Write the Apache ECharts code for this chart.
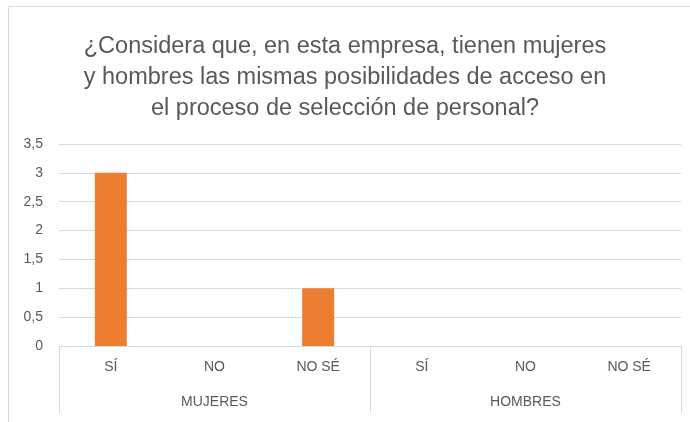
<!DOCTYPE html>
<html>
<head>
<meta charset="utf-8">
<script src="https://cdn.jsdelivr.net/npm/echarts@6/dist/echarts.min.js"></script>
<style>html,body{margin:0;padding:0;background:#fff}#c{width:690px;height:422px}</style>
</head>
<body>
<div id="c"></div>
<script>
const titleText = '¿Considera que, en esta empresa, tienen mujeres\ny hombres las mismas posibilidades de acceso en\nel proceso de selección de personal?';
const categories = ['SÍ', 'NO', 'NO SÉ', 'SÍ', 'NO', 'NO SÉ'];
const groups = ['MUJERES', 'HOMBRES'];
const values = [3, 0, 1, 0, 0, 0];
const yMin = 0, yMax = 3.5, yStep = 0.5;

const FONT = '"Liberation Sans", Arial, sans-serif';
const GREY = '#595959';
const LINE = '#d9d9d9';

const chart = echarts.init(document.getElementById('c'), null, {renderer: 'canvas'});
chart.setOption({
  animation: false,
  title: {
    text: titleText,
    left: 'center',
    top: 26,
    textStyle: {fontFamily: FONT, fontSize: 23.5, fontWeight: 'normal', color: GREY, lineHeight: 31}
  },
  graphic: [{
    type: 'rect', shape: {x: 8.5, y: 6.5, width: 720, height: 450},
    style: {fill: null, stroke: LINE, lineWidth: 1}, silent: true
  }],
  grid: {left: 59, right: 9, top: 144, bottom: 76, containLabel: false},
  xAxis: [{
    type: 'category', data: categories, position: 'bottom',
    axisLine: {show: true, lineStyle: {color: LINE, width: 1}},
    axisTick: {show: false},
    axisLabel: {color: GREY, fontFamily: FONT, fontSize: 14, margin: 14, interval: 0}
  }, {
    type: 'category', data: groups, position: 'bottom',
    axisLine: {show: false},
    axisTick: {show: true, length: 67, lineStyle: {color: LINE, width: 1}},
    axisLabel: {color: GREY, fontFamily: FONT, fontSize: 14, margin: 49, interval: 0},
    splitLine: {show: false}
  }],
  yAxis: {
    type: 'value', min: yMin, max: yMax, interval: yStep,
    axisLine: {show: false}, axisTick: {show: false},
    splitLine: {lineStyle: {color: LINE, width: 1}},
    axisLabel: {color: GREY, fontFamily: FONT, fontSize: 14, margin: 16,
      formatter: v => String(v).replace('.', ',')}
  },
  series: [{
    type: 'bar', data: values, xAxisIndex: 0, barWidth: 32,
    itemStyle: {color: '#ED7D31'}
  }]
});
</script>
</body>
</html>
